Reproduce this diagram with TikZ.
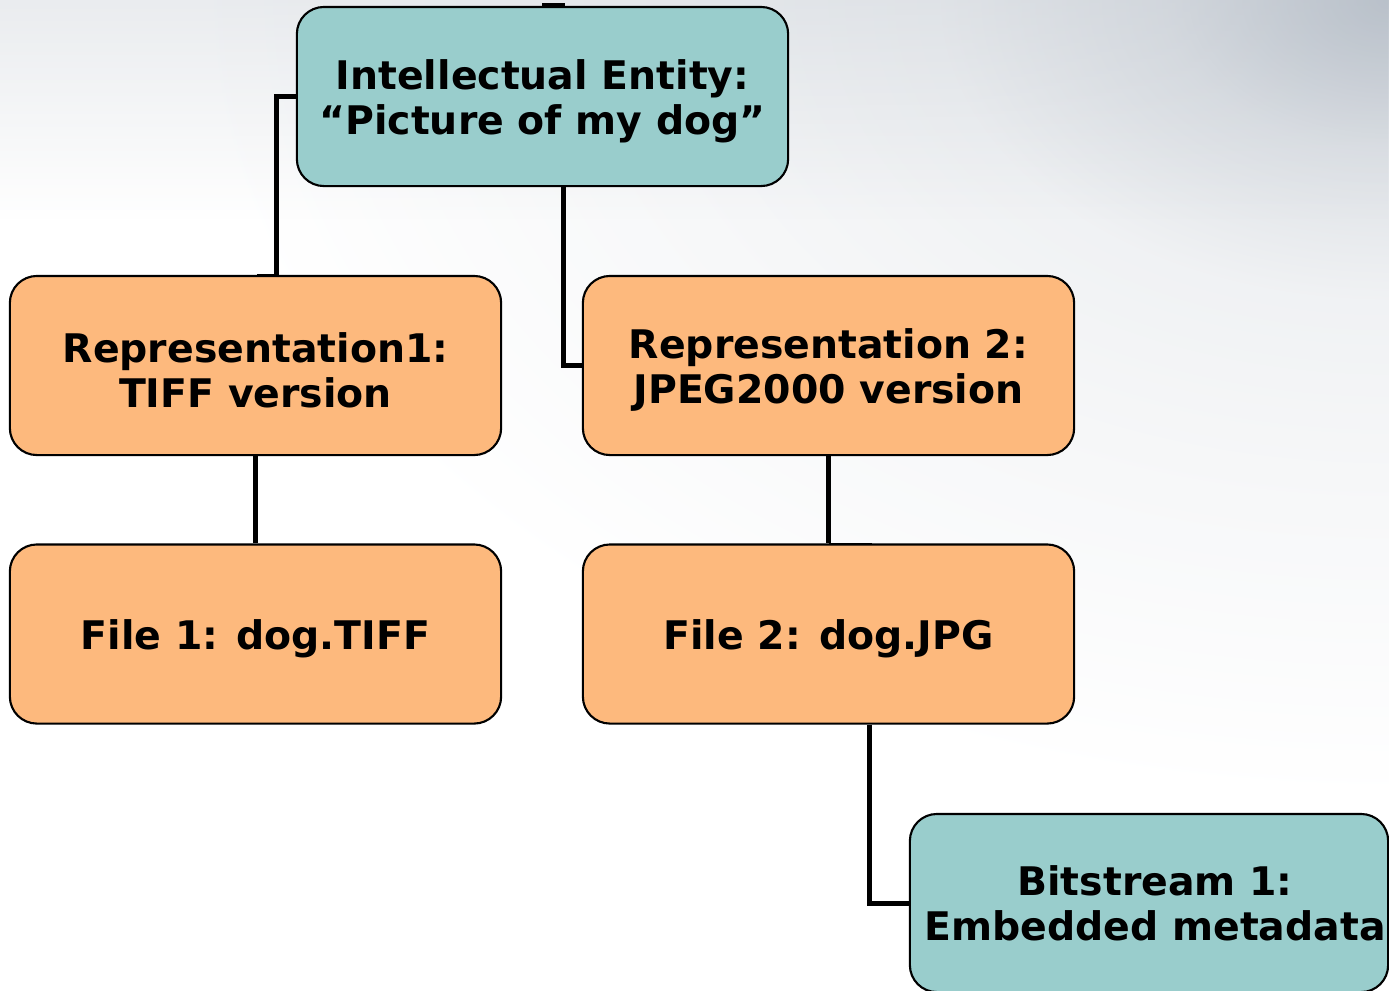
\documentclass[tikz,border=0pt]{standalone}
\usepackage{fontspec}
\setmainfont{DejaVu Sans}
\usetikzlibrary{positioning,fadings}
\definecolor{entityteal}{RGB}{153,205,204}
\definecolor{reporange}{RGB}{253,185,125}
\definecolor{cornergray}{RGB}{180,188,198}
% radial shading: the shaded ellipse's radius corresponds to 25bp
\pgfdeclareradialshading{cornerglow}{\pgfpoint{0bp}{0bp}}{%
  color(0bp)=(cornergray!90!white); color(3.75bp)=(cornergray!45!white);
  color(7.5bp)=(cornergray!20!white); color(12.5bp)=(cornergray!11!white);
  color(17.5bp)=(cornergray!4!white); color(20bp)=(white); color(50bp)=(white)}
\tikzfading[name=topband, top color=transparent!72, bottom color=transparent!100]
\tikzset{
  box/.style={draw=black, line width=0.6pt, rounded corners=0.27cm,
    minimum width=4.91cm, minimum height=1.79cm, inner sep=0pt},
  tealbox/.style={box, fill=entityteal},
  orangebox/.style={box, fill=reporange},
  label/.style={align=center, font=\bfseries\fontsize{11.2}{12.9}\selectfont},
  boxlabel/.style={label, yshift=-0.045cm},
  conn/.style={draw=black, line width=0.05cm},
  stub/.style={draw=black, line width=0.015cm}
}
\begin{document}
\begin{tikzpicture}[x=0.01cm, y=-0.01cm]
  \useasboundingbox (0,0) rectangle (1389,990);
  \begin{scope}
    \clip (0,0) rectangle (1389,990);
    % background: white page, grey haze along the top, darker towards the right corner
    \fill[white] (0,0) rectangle (1389,990);
    \shade[shading=cornerglow] (1389,0) ellipse (1500 and 1000);
    \fill[cornergray, path fading=topband] (0,0) rectangle (1389,220);

    % boxes
    \node[tealbox] (ie) at (542.5,96.5) {};
    \node[orangebox] (r1) at (255.5,365.5) {};
    \node[orangebox] (r2) at (828.5,365.5) {};
    \node[orangebox] (f1) at (255.5,634) {};
    \node[orangebox] (f2) at (828.5,634) {};
    \node[tealbox, minimum width=4.78cm, minimum height=1.78cm] (bs) at (1149,903) {};

    % texts
    \node[boxlabel] (iet) at (ie.center) {Intellectual Entity:\\“Picture of my dog”};
    \node[boxlabel] (r1t) at (r1.center) {Representation1:\\TIFF version};
    \node[boxlabel] (r2t) at (r2.center) {Representation 2:\\JPEG2000 version};
    \node[boxlabel] (f1t) at (f1.center) {File 1: dog.TIFF};
    \node[boxlabel] (f2t) at (f2.center) {File 2: dog.JPG};
    \node[label] (bst) at (1155,903) {Bitstream 1:\\Embedded metadata};

    % connectors
    \coordinate (topL) at (542,5);
    \coordinate (topR) at (565,5);
    \draw[conn] (topL) -- (topR);
    \draw[conn] (ie.west) -| ([xshift=0.205cm]r1.north);
    \draw[stub] ([xshift=0.205cm]r1.north) -- ([xshift=0.015cm]r1.north);
    \draw[conn] ([xshift=0.205cm]ie.south) |- (r2.west);
    \draw[conn] (r1.south) -- (f1.north);
    \draw[conn] (r2.south) -- (f2.north);
    \draw[stub] (f2.north) -- ([xshift=0.43cm]f2.north);
    \draw[conn] ([xshift=0.41cm]f2.south) |- (bs.west);
  \end{scope}
\end{tikzpicture}
\end{document}
